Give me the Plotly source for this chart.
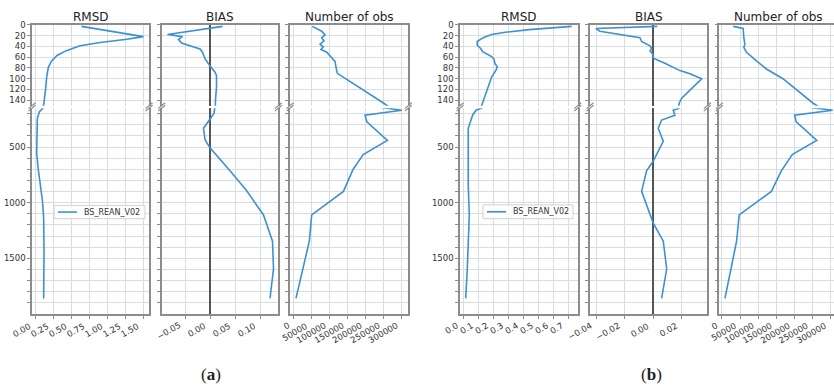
import plotly.graph_objects as go

FIG_W, FIG_H = 834, 389

# ---------------- (a) profiles: depth (m) and statistic ----------------
a_rmsd_depth = [3, 22, 27, 33, 39, 48, 57, 67, 79, 97, 118, 139, 154, 184, 244,
                404, 551, 699, 845, 992, 1140, 1434, 1860]
a_rmsd = [0.64, 1.50, 1.27, 0.90, 0.62, 0.43, 0.30, 0.226, 0.18, 0.157, 0.143,
          0.12, 0.10, 0.055, 0.027, 0.018, 0.018, 0.04, 0.073, 0.10, 0.115,
          0.12, 0.115]

a_bias_depth = [3, 18, 22, 27, 34, 45, 51, 63, 75, 88, 94, 115, 139, 160, 198,
                331, 434, 507, 713, 890, 1110, 1346, 1596, 1860]
a_bias = [0.025, -0.085, -0.055, -0.063, -0.057, -0.02, -0.015, -0.01, -0.001,
          0.010, 0.013, 0.013, 0.011, 0.009, 0.008, -0.013, -0.010, 0.000,
          0.040, 0.073, 0.107, 0.125, 0.127, 0.120]

a_nobs_depth = [3, 12, 19, 24, 30, 36, 41, 46, 51, 61, 68, 79, 90, 145, 169,
                213, 272, 440, 567, 699, 898, 1110, 1346, 1860]
a_nobs = [51700, 77800, 87000, 77800, 84200, 73100, 82300, 75800, 91700,
          105600, 114700, 117500, 121100, 249000, 300000, 198000, 203000,
          260000, 193000, 165000, 138000, 50000, 43400, 6400]

# ---------------- (b) profiles ----------------
b_rmsd_depth = [3, 9, 14, 18, 24, 31, 38, 44, 50, 55, 59, 64, 72, 78, 84, 97,
                106, 121, 136, 150, 169, 213, 331, 846, 1110, 1582, 1860]
b_rmsd = [0.723, 0.44, 0.28, 0.189, 0.133, 0.093, 0.093, 0.116, 0.129, 0.167,
          0.189, 0.205, 0.211, 0.227, 0.218, 0.189, 0.178, 0.156, 0.138,
          0.122, 0.085, 0.062, 0.033, 0.033, 0.040, 0.027, 0.016]

b_bias_depth = [3, 7, 12, 21, 24, 31, 39, 44, 48, 54, 62, 70, 85, 91, 100, 109,
                124, 136, 145, 154, 169, 213, 257, 331, 448, 625, 713, 898,
                1110, 1184, 1346, 1596, 1860]
b_bias = [0.0028, -0.0405, -0.0377, -0.0141, -0.0094, -0.0082, -0.0023,
          -0.0011, -0.0023, -0.0004, 0.0, 0.0071, 0.0189, 0.026, 0.0342,
          0.0307, 0.0248, 0.0201, 0.0184, 0.0177, 0.0141, 0.0153, 0.0059,
          0.0035, 0.0071, 0.0, -0.0047, -0.0082, -0.0023, 0.0, 0.0071,
          0.0095, 0.0059]

b_nobs_depth = [3, 7, 24, 36, 42, 51, 67, 82, 100, 145, 169, 213, 272, 440,
                567, 713, 898, 1110, 1346, 1860]
b_nobs = [31000, 58500, 60400, 63200, 60400, 67800, 95300, 122800, 168400,
          250800, 305800, 200500, 205200, 261800, 194200, 164000, 136500,
          47500, 40400, 8200]

SERIES_NAME = "BS_REAN_V02"
LINE_COLOR = "#3f90d0"
SPINE = "#8c8c8c"
GRID = "#dadde0"
TEXT = "#333333"
FONT = "DejaVu Sans"

# broken depth axis: shallow part and deep part (pixel spans, data ranges)
sections = [
    dict(rng=[150, 0], py=(20, 102), grid=list(range(0, 150, 20)),
         labels=[str(v) for v in range(0, 150, 20)]),
    dict(rng=[2000, 150], py=(104.5, 313), grid=list(range(200, 2000, 100)),
         labels=[str(v) if v % 500 == 0 else "" for v in range(200, 2000, 100)]),
]

panels = [
    dict(title="RMSD", d=a_rmsd_depth, v=a_rmsd, px=(32, 149),
         xr=[-0.047, 1.578], ticks=[0, 0.25, 0.5, 0.75, 1.0, 1.25, 1.5],
         dec=2, zero=False, ylab=True, legend=(54, 145, 203, 216.5)),
    dict(title="BIAS", d=a_bias_depth, v=a_bias, px=(161.7, 278.3),
         xr=[-0.0966, 0.1366], ticks=[-0.05, 0, 0.05, 0.10],
         dec=2, zero=True, ylab=False, legend=None),
    dict(title="Number of obs", d=a_nobs_depth, v=a_nobs, px=(290, 408.3),
         xr=[-10200, 318000], ticks=list(range(0, 300001, 50000)),
         dec=0, zero=False, ylab=False, legend=None),
    dict(title="RMSD", d=b_rmsd_depth, v=b_rmsd, px=(460, 577.7),
         xr=[-0.022, 0.763], ticks=[0, 0.1, 0.2, 0.3, 0.4, 0.5, 0.6, 0.7],
         dec=1, zero=False, ylab=True, legend=(483, 573, 202.5, 216.5)),
    dict(title="BIAS", d=b_bias_depth, v=b_bias, px=(590, 707.3),
         xr=[-0.0447, 0.0382], ticks=[-0.04, -0.02, 0, 0.02],
         dec=2, zero=True, ylab=False, legend=None),
    dict(title="Number of obs", d=b_nobs_depth, v=b_nobs, px=(719.3, 837.6),
         xr=[-7400, 319400], ticks=list(range(0, 300001, 50000)),
         dec=0, zero=False, ylab=False, legend=None),
]


def px_x(x):
    return x / FIG_W


def px_y(y):
    return 1 - y / FIG_H


def tick_text(v, dec):
    if dec == 0:
        return str(int(round(v)))
    s = f"{abs(v):.{dec}f}"
    return ("\u2212" + s) if v < 0 else s


fig = go.Figure()
layout = {}
shapes = []
annotations = []
tick_font = dict(family=FONT, size=8.5, color=TEXT)

for k, p in enumerate(panels):
    L, R = p["px"]
    xr = list(p["xr"])
    right_visible = R <= FIG_W
    if not right_visible:
        # the panel runs past the page edge: keep the same scale, trim the range
        xr[1] = xr[0] + (xr[1] - xr[0]) * (FIG_W - L) / (R - L)
        Rd = FIG_W
    else:
        Rd = R
    for s, sec in enumerate(sections):
        n = 2 * k + s + 1
        xa = "xaxis" if n == 1 else f"xaxis{n}"
        ya = "yaxis" if n == 1 else f"yaxis{n}"
        xref = "x" if n == 1 else f"x{n}"
        yref = "y" if n == 1 else f"y{n}"
        top, bot = sec["py"]
        fig.add_trace(go.Scatter(
            x=p["v"], y=p["d"], mode="lines", name=SERIES_NAME,
            line=dict(color=LINE_COLOR, width=1.6),
            xaxis=xref, yaxis=yref, showlegend=False,
        ))
        xaxis = dict(
            domain=[px_x(L), px_x(Rd)], range=xr, anchor=yref,
            tickmode="array", tickvals=p["ticks"],
            showgrid=True, gridcolor=GRID, gridwidth=1,
            zeroline=p["zero"], zerolinecolor="#555555", zerolinewidth=1.6,
            showline=True, linecolor=SPINE, linewidth=1.5, mirror=False,
            showticklabels=False, fixedrange=True,
        )
        if s == 0:
            xaxis.update(side="top", ticks="")
        else:
            xaxis.update(side="bottom", ticks="outside", ticklen=3, tickwidth=1,
                         tickcolor=SPINE)
            # slanted labels hanging below-left of each tick
            for v in p["ticks"]:
                annotations.append(dict(
                    text=tick_text(v, p["dec"]), xref=xref, yref="paper",
                    x=v, y=px_y(bot + 4), xanchor="right", yanchor="top",
                    textangle=-30, showarrow=False, font=tick_font,
                ))
        yaxis = dict(
            domain=[px_y(bot), px_y(top)], range=sec["rng"], anchor=xref,
            tickmode="array", tickvals=sec["grid"], ticktext=sec["labels"],
            showgrid=True, gridcolor=GRID, gridwidth=1, zeroline=False,
            showline=True, linecolor=SPINE, linewidth=1.5,
            mirror=right_visible,
            ticks="outside", ticklen=3, tickwidth=1, tickcolor=SPINE,
            showticklabels=p["ylab"], tickfont=tick_font,
            fixedrange=True,
        )
        layout[xa] = xaxis
        layout[ya] = yaxis

    # "//" marks where the depth axis is broken
    sides = [L] + ([R] if right_visible else [])
    for xs in sides:
        for yc in (sections[0]["py"][1], sections[1]["py"][0]):
            shapes.append(dict(
                type="line", xref="paper", yref="paper",
                x0=px_x(xs - 3.5), y0=px_y(yc + 3), x1=px_x(xs + 3.5), y1=px_y(yc - 3),
                line=dict(color=SPINE, width=1.2),
            ))

    annotations.append(dict(
        text=p["title"], xref="paper", yref="paper",
        x=px_x((L + R) / 2), y=px_y(21), xanchor="center", yanchor="bottom",
        showarrow=False, font=dict(family=FONT, size=12, color="#222222"),
    ))

    # legend box with a line key for the experiment
    if p["legend"] is not None:
        bx0, bx1, by0, by1 = p["legend"]
        ym = (by0 + by1) / 2
        shapes.append(dict(
            type="rect", xref="paper", yref="paper",
            x0=px_x(bx0), x1=px_x(bx1), y0=px_y(by1), y1=px_y(by0),
            fillcolor="rgba(255,255,255,0.85)", line=dict(color="#d0d0d0", width=1),
        ))
        shapes.append(dict(
            type="line", xref="paper", yref="paper",
            x0=px_x(bx0 + 4), x1=px_x(bx0 + 23), y0=px_y(ym), y1=px_y(ym),
            line=dict(color=LINE_COLOR, width=1.6),
        ))
        annotations.append(dict(
            text=SERIES_NAME, xref="paper", yref="paper",
            x=px_x(bx0 + 28), y=px_y(ym), xanchor="left", yanchor="middle",
            showarrow=False, font=dict(family=FONT, size=8, color=TEXT),
        ))

for label, xc in (("(<b>a</b>)", 211), ("(<b>b</b>)", 651)):
    annotations.append(dict(
        text=label, xref="paper", yref="paper", x=px_x(xc), y=px_y(374),
        xanchor="center", yanchor="middle", showarrow=False,
        font=dict(family="Liberation Serif", size=17, color="#222222"),
    ))

fig.update_layout(
    width=FIG_W, height=FIG_H, autosize=False,
    margin=dict(l=0, r=0, t=0, b=0),
    paper_bgcolor="white", plot_bgcolor="white",
    font=dict(family=FONT, color=TEXT),
    showlegend=False,
    shapes=shapes, annotations=annotations,
    **layout,
)

fig.write_html("out.html")
